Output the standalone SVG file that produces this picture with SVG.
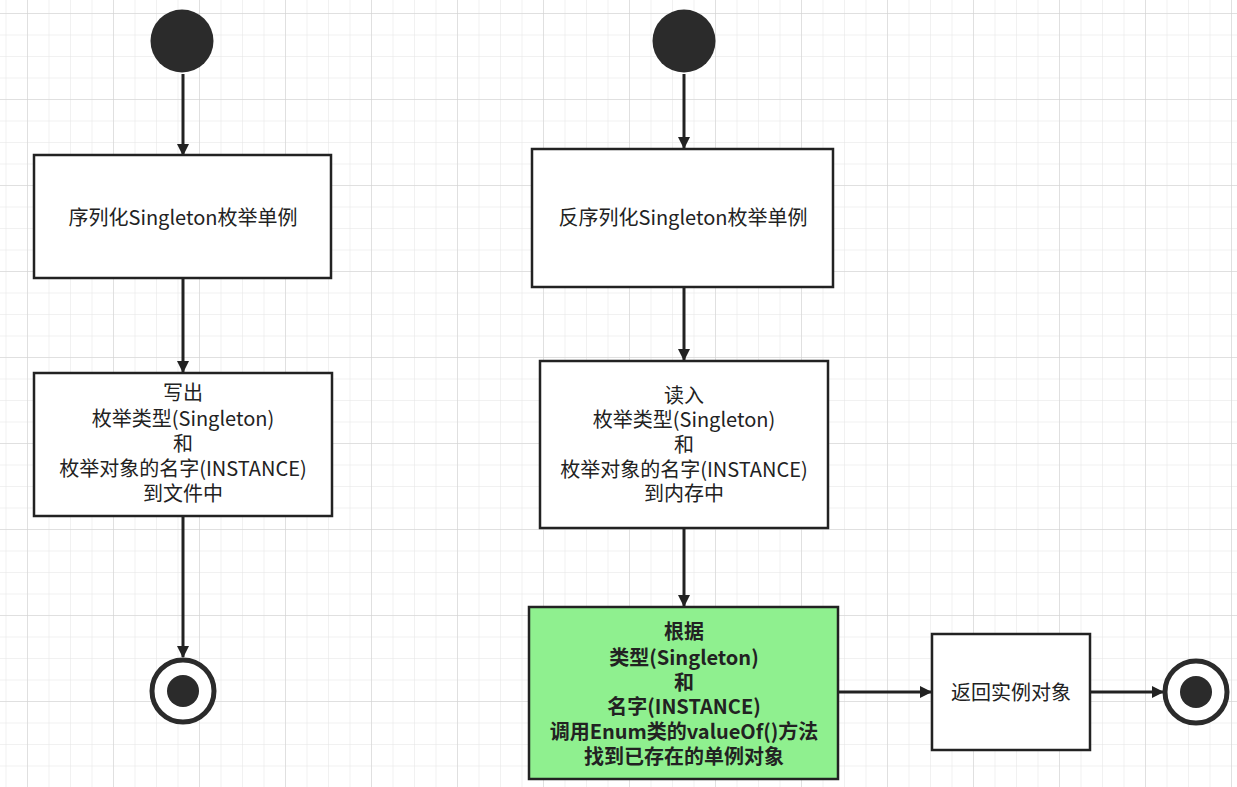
<svg xmlns="http://www.w3.org/2000/svg" width="1237" height="787" viewBox="0 0 1237 787">
<style>
.box{fill:#fff;stroke:#222;stroke-width:2.5}
.green{fill:#8ff08f;stroke:#222;stroke-width:2.5}
.t{font-family:"Noto Sans CJK SC","Noto Sans",sans-serif;font-size:20px;fill:#222;text-anchor:middle}
.b{font-weight:bold}
.edge{stroke:#222;stroke-width:3;fill:none;marker-end:url(#arr)}
.start{fill:#2b2b2b}
.endo{fill:#fff;stroke:#2b2b2b;stroke-width:5}
</style>
<defs>
<marker id="arr" markerWidth="12" markerHeight="12" refX="11" refY="6" orient="auto" markerUnits="userSpaceOnUse" viewBox="0 0 12 12">
<path d="M0,0 L12,6 L0,12 Z" fill="#222"/>
</marker>
<pattern id="minor" width="21.5" height="21.5" patternUnits="userSpaceOnUse" x="5.5" y="13">
<path d="M0,0 H21.5 M0,0 V21.5" stroke="#e3e3e3" stroke-width="1" fill="none"/>
</pattern>
<pattern id="major" width="86" height="86" patternUnits="userSpaceOnUse" x="27" y="13">
<path d="M0,0 H86 M0,0 V86" stroke="#d0d0d0" stroke-width="1" fill="none"/>
</pattern>
</defs>
<rect width="1237" height="787" fill="#fff"/>
<rect width="1237" height="787" fill="url(#minor)"/>
<rect width="1237" height="787" fill="url(#major)"/>

<g id="connectors">
<line class="edge" x1="183" y1="74" x2="183" y2="155"/>
<line class="edge" x1="183" y1="278" x2="183" y2="372"/>
<line class="edge" x1="183" y1="516" x2="183" y2="657"/>
<line class="edge" x1="684" y1="74" x2="684" y2="148"/>
<line class="edge" x1="684" y1="287" x2="684" y2="360"/>
<line class="edge" x1="684" y1="528" x2="684" y2="606"/>
<line class="edge" x1="838" y1="692" x2="931" y2="692"/>
<line class="edge" x1="1090" y1="692" x2="1163" y2="692"/>
</g>

<g id="start1"><circle class="start" cx="182" cy="41" r="31.5"/></g>
<g id="start2"><circle class="start" cx="684" cy="41" r="31.5"/></g>

<g id="serialize">
<rect class="box" x="34" y="155" width="297" height="123"/>
<text class="t" x="183" y="225">序列化Singleton枚举单例</text>
</g>
<g id="write">
<rect class="box" x="34" y="373" width="298" height="143"/>
<text class="t" x="183" y="400">写出</text>
<text class="t" x="183" y="426">枚举类型(Singleton)</text>
<text class="t" x="183" y="451">和</text>
<text class="t" x="183" y="476">枚举对象的名字(INSTANCE)</text>
<text class="t" x="183" y="501">到文件中</text>
</g>
<g id="end1">
<circle class="endo" cx="183" cy="691" r="31"/>
<circle class="start" cx="183" cy="691" r="16"/>
</g>

<g id="deserialize">
<rect class="box" x="532" y="149" width="301" height="138"/>
<text class="t" x="683" y="225">反序列化Singleton枚举单例</text>
</g>
<g id="read">
<rect class="box" x="540" y="361" width="288" height="167"/>
<text class="t" x="684" y="403">读入</text>
<text class="t" x="684" y="427">枚举类型(Singleton)</text>
<text class="t" x="684" y="452">和</text>
<text class="t" x="684" y="477">枚举对象的名字(INSTANCE)</text>
<text class="t" x="684" y="501">到内存中</text>
</g>
<g id="lookup">
<rect class="green" x="529" y="607" width="309" height="172"/>
<text class="t b" x="684" y="639">根据</text>
<text class="t b" x="684" y="665">类型(Singleton)</text>
<text class="t b" x="684" y="690">和</text>
<text class="t b" x="684" y="714">名字(INSTANCE)</text>
<text class="t b" x="684" y="739">调用Enum类的valueOf()方法</text>
<text class="t b" x="684" y="764">找到已存在的单例对象</text>
</g>
<g id="return">
<rect class="box" x="932" y="634" width="158" height="116"/>
<text class="t" x="1011" y="700">返回实例对象</text>
</g>
<g id="end2">
<circle class="endo" cx="1196" cy="692" r="31"/>
<circle class="start" cx="1196" cy="692" r="16"/>
</g>
</svg>
